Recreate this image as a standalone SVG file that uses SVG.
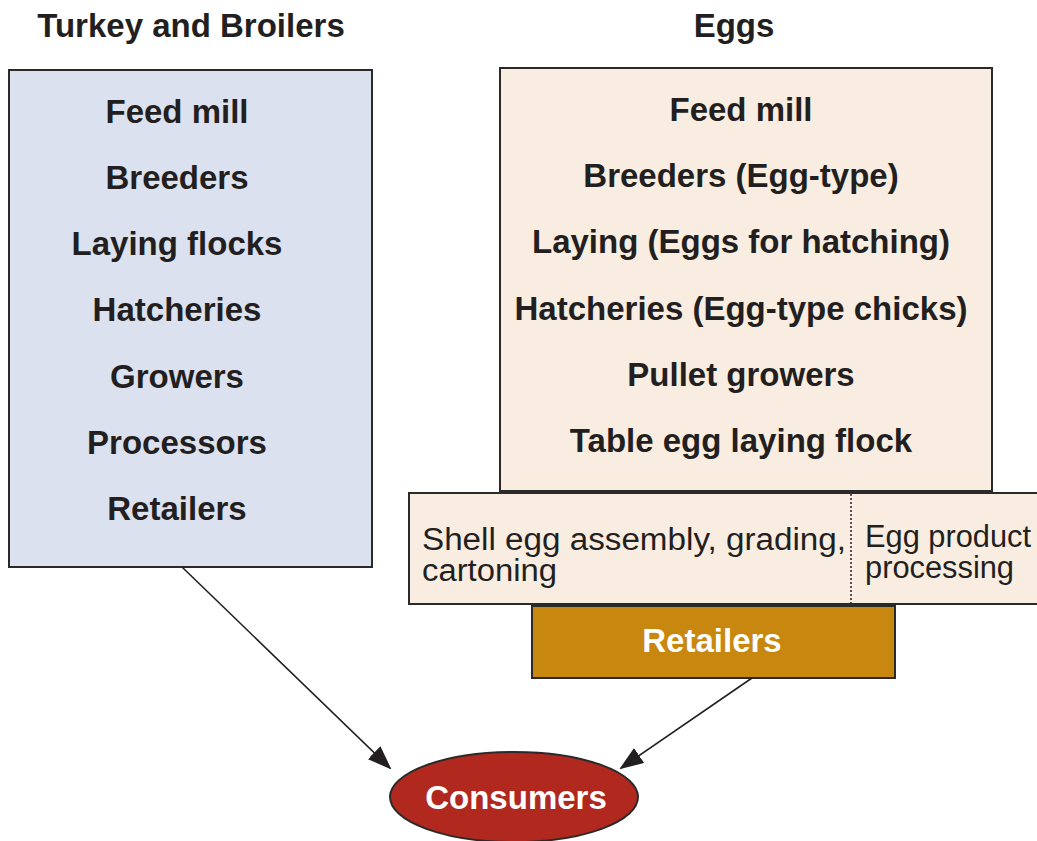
<svg xmlns="http://www.w3.org/2000/svg" width="1037" height="841" viewBox="0 0 1037 841">
<defs>
<marker id="ah" markerWidth="24" markerHeight="18" refX="22" refY="9" orient="auto" markerUnits="userSpaceOnUse" viewBox="0 0 24 18">
<path d="M0,0 L24,9 L0,18 z" fill="#231f20"/>
</marker>
<style>
.box{stroke:#2b2a2a;stroke-width:2}
.b{font-family:"Liberation Sans",Arial,sans-serif;font-weight:bold;font-size:33px;fill:#231f20;text-anchor:middle}
.r{font-family:"Liberation Sans",Arial,sans-serif;font-size:31px;fill:#231f20}
.w{font-family:"Liberation Sans",Arial,sans-serif;font-weight:bold;font-size:33px;fill:#ffffff;text-anchor:middle}
.edge{stroke:#231f20;stroke-width:1.6;fill:none;marker-end:url(#ah)}
</style>
</defs>
<rect width="1037" height="841" fill="#ffffff"/>
<text class="b" x="191" y="37">Turkey and Broilers</text>
<text class="b" x="734" y="37">Eggs</text>
<g id="turkey">
<rect class="box" x="9" y="70" width="363" height="497" fill="#dbe1ee"/>
<text class="b" x="177" y="123">Feed mill</text>
<text class="b" x="177" y="189">Breeders</text>
<text class="b" x="177" y="255">Laying flocks</text>
<text class="b" x="177" y="321">Hatcheries</text>
<text class="b" x="177" y="388">Growers</text>
<text class="b" x="177" y="454">Processors</text>
<text class="b" x="177" y="520">Retailers</text>
</g>
<g id="eggs">
<rect class="box" x="500" y="68" width="492" height="423" fill="#f8ede0"/>
<text class="b" x="741" y="121">Feed mill</text>
<text class="b" x="741" y="187">Breeders (Egg-type)</text>
<text class="b" x="741" y="253">Laying (Eggs for hatching)</text>
<text class="b" x="741" y="320">Hatcheries (Egg-type chicks)</text>
<text class="b" x="741" y="386">Pullet growers</text>
<text class="b" x="741" y="452">Table egg laying flock</text>
</g>
<g id="processing">
<rect class="box" x="409" y="493" width="640" height="111" fill="#f8ede0"/>
<line x1="851" y1="494" x2="851" y2="603" stroke="#231f20" stroke-width="1.5" stroke-dasharray="2,2"/>
<text class="r"><tspan x="422" y="550" textLength="424" lengthAdjust="spacingAndGlyphs">Shell egg assembly, grading,</tspan><tspan x="422" y="581" textLength="135" lengthAdjust="spacingAndGlyphs">cartoning</tspan></text>
<text class="r"><tspan x="865" y="547" textLength="166" lengthAdjust="spacingAndGlyphs">Egg product</tspan><tspan x="865" y="578" textLength="149" lengthAdjust="spacingAndGlyphs">processing</tspan></text>
</g>
<g id="retailers">
<rect class="box" x="532" y="606" width="363" height="72" fill="#c8870e"/>
<text class="w" x="712" y="652">Retailers</text>
</g>
<g id="consumers">
<ellipse cx="514" cy="797" rx="124" ry="45" fill="#b0281e" stroke="#2b2a2a" stroke-width="2"/>
<text class="w" x="516" y="809">Consumers</text>
</g>
<g id="connectors">
<line class="edge" x1="182" y1="567" x2="390" y2="768"/>
<line class="edge" x1="752" y1="678" x2="621" y2="768"/>
</g>
</svg>
